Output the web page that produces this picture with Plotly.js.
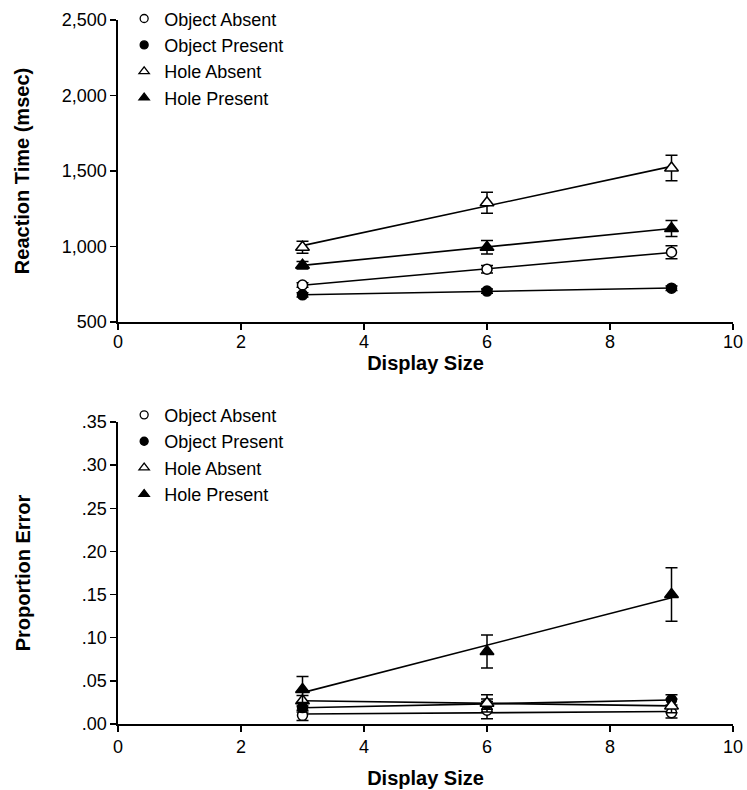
<!DOCTYPE html>
<html><head><meta charset="utf-8">
<script src="https://cdn.plot.ly/plotly-3.0.1.min.js"></script>
<style>html,body{margin:0;padding:0;background:#fff}#chart{width:747px;height:790px}</style>
</head><body><div id="chart"></div>
<script>
// ---- data ----
const displaySizes = [3, 6, 9];
const seriesNames = ['Object Absent', 'Object Present', 'Hole Absent', 'Hole Present'];

// Reaction time (msec)
const rtObjectAbsent = [745, 850, 962];
const rtObjectAbsentErr = [15, 25, 43];
const rtObjectPresent = [680, 705, 724];
const rtObjectPresentErr = [14, 14, 15];
const rtHoleAbsent = [995, 1290, 1520];
const rtHoleAbsentErr = [40, 70, 85];
const rtHolePresent = [876, 995, 1120];
const rtHolePresentErr = [25, 45, 53];

// Proportion error
const peObjectAbsent = [0.010, 0.016, 0.013];
const peObjectAbsentErr = [0.006, 0.010, 0.006];
const peObjectPresent = [0.019, 0.023, 0.028];
const peObjectPresentErr = [0.005, 0.006, 0.006];
const peHoleAbsent = [0.027, 0.024, 0.021];
const peHoleAbsentErr = [0.006, 0.010, 0.008];
const peHolePresent = [0.040, 0.084, 0.150];
const peHolePresentErr = [0.015, 0.019, 0.031];

const xTickVals = [0, 2, 4, 6, 8, 10];
const rtTickVals = [500, 1000, 1500, 2000, 2500];
const rtTickText = ['500', '1,000', '1,500', '2,000', '2,500'];
const peTickVals = [0, 0.05, 0.10, 0.15, 0.20, 0.25, 0.30, 0.35];
const peTickText = ['.00', '.05', '.10', '.15', '.20', '.25', '.30', '.35'];

// ---- styles ----
const FONT = 'Liberation Sans, Arial, sans-serif';
const symbolStyles = [
  {symbol: 'circle', color: '#ffffff', size: 10, legendSize: 8},
  {symbol: 'circle', color: '#000000', size: 10, legendSize: 8},
  {symbol: 'triangle-up', color: '#ffffff', size: 12, legendSize: 9},
  {symbol: 'triangle-up', color: '#000000', size: 12, legendSize: 9}
];

function fitLine(xs, ys) {
  const n = xs.length;
  const mx = xs.reduce((a, b) => a + b, 0) / n;
  const my = ys.reduce((a, b) => a + b, 0) / n;
  let sxy = 0, sxx = 0;
  for (let i = 0; i < n; i++) { sxy += (xs[i] - mx) * (ys[i] - my); sxx += (xs[i] - mx) ** 2; }
  const b = sxy / sxx, a = my - b * mx;
  return xs.map(x => a + b * x);
}

const rtSeries = [[rtObjectAbsent, rtObjectAbsentErr], [rtObjectPresent, rtObjectPresentErr],
                  [rtHoleAbsent, rtHoleAbsentErr], [rtHolePresent, rtHolePresentErr]];
const peSeries = [[peObjectAbsent, peObjectAbsentErr], [peObjectPresent, peObjectPresentErr],
                  [peHoleAbsent, peHoleAbsentErr], [peHolePresent, peHolePresentErr]];

const traces = [];
function addPanel(series, xa, ya, legendId) {
  series.forEach(([vals]) => {
    traces.push({x: displaySizes, y: fitLine(displaySizes, vals), xaxis: xa, yaxis: ya,
      mode: 'lines', line: {color: '#000', width: 1.6}, showlegend: false, hoverinfo: 'skip'});
  });
  series.forEach(([vals, errs], i) => {
    const s = symbolStyles[i];
    traces.push({x: displaySizes, y: vals, xaxis: xa, yaxis: ya, name: seriesNames[i],
      showlegend: false, mode: 'markers',
      marker: {symbol: s.symbol, size: s.size, color: s.color, line: {color: '#000', width: 1.5}},
      error_y: {type: 'data', array: errs, visible: true, color: '#000', thickness: 1.5, width: 6}});
  });
  // legend entries (small symbols as in the reference legend)
  series.forEach((_, i) => {
    const s = symbolStyles[i];
    traces.push({x: [null], y: [null], xaxis: xa, yaxis: ya, name: seriesNames[i],
      legend: legendId, mode: 'markers', showlegend: true,
      marker: {symbol: s.symbol, size: s.legendSize, color: s.color, line: {color: '#000', width: 1.3}}});
  });
}
addPanel(rtSeries, 'x', 'y', 'legend');
addPanel(peSeries, 'x2', 'y2', 'legend2');

const axisCommon = {showgrid: false, zeroline: false, showline: true, linecolor: '#000', linewidth: 1.6,
  ticks: 'outside', ticklen: 6, tickwidth: 1.5, tickcolor: '#000',
  tickfont: {family: FONT, size: 18, color: '#000'}};
const titleFont = {family: FONT, size: 20, color: '#000', weight: 'bold'};
const legendFont = {family: FONT, size: 18, color: '#000'};

const layout = {
  width: 747, height: 790,
  margin: {l: 118, r: 14, t: 20, b: 66, autoexpand: false},
  paper_bgcolor: '#fff', plot_bgcolor: '#fff',
  font: {family: FONT, color: '#000'},
  xaxis: Object.assign({}, axisCommon, {anchor: 'y', domain: [0, 1], range: [0, 10],
    tickvals: xTickVals, ticklabelstandoff: -3,
    title: {text: 'Display Size', font: titleFont, standoff: 0}}),
  yaxis: Object.assign({}, axisCommon, {anchor: 'x', domain: [0.571, 1], range: [500, 2500],
    tickvals: rtTickVals, ticktext: rtTickText,
    title: {text: 'Reaction Time (msec)', font: titleFont, standoff: 27}}),
  xaxis2: Object.assign({}, axisCommon, {anchor: 'y2', domain: [0, 1], range: [0, 10],
    tickvals: xTickVals, title: {text: 'Display Size', font: titleFont, standoff: 15}}),
  yaxis2: Object.assign({}, axisCommon, {anchor: 'x2', domain: [0, 0.429], range: [0, 0.35],
    tickvals: peTickVals, ticktext: peTickText,
    title: {text: 'Proportion Error', font: titleFont, standoff: 46}}),
  legend: {x: 0.01, y: 1.028, xanchor: 'left', yanchor: 'top', bgcolor: 'rgba(0,0,0,0)',
    font: legendFont, itemwidth: 30},
  legend2: {x: 0.01, y: 0.465, xanchor: 'left', yanchor: 'top', bgcolor: 'rgba(0,0,0,0)',
    font: legendFont, itemwidth: 30},
  showlegend: true
};

Plotly.newPlot('chart', traces, layout, {displayModeBar: false, staticPlot: true});
</script>
</body></html>
